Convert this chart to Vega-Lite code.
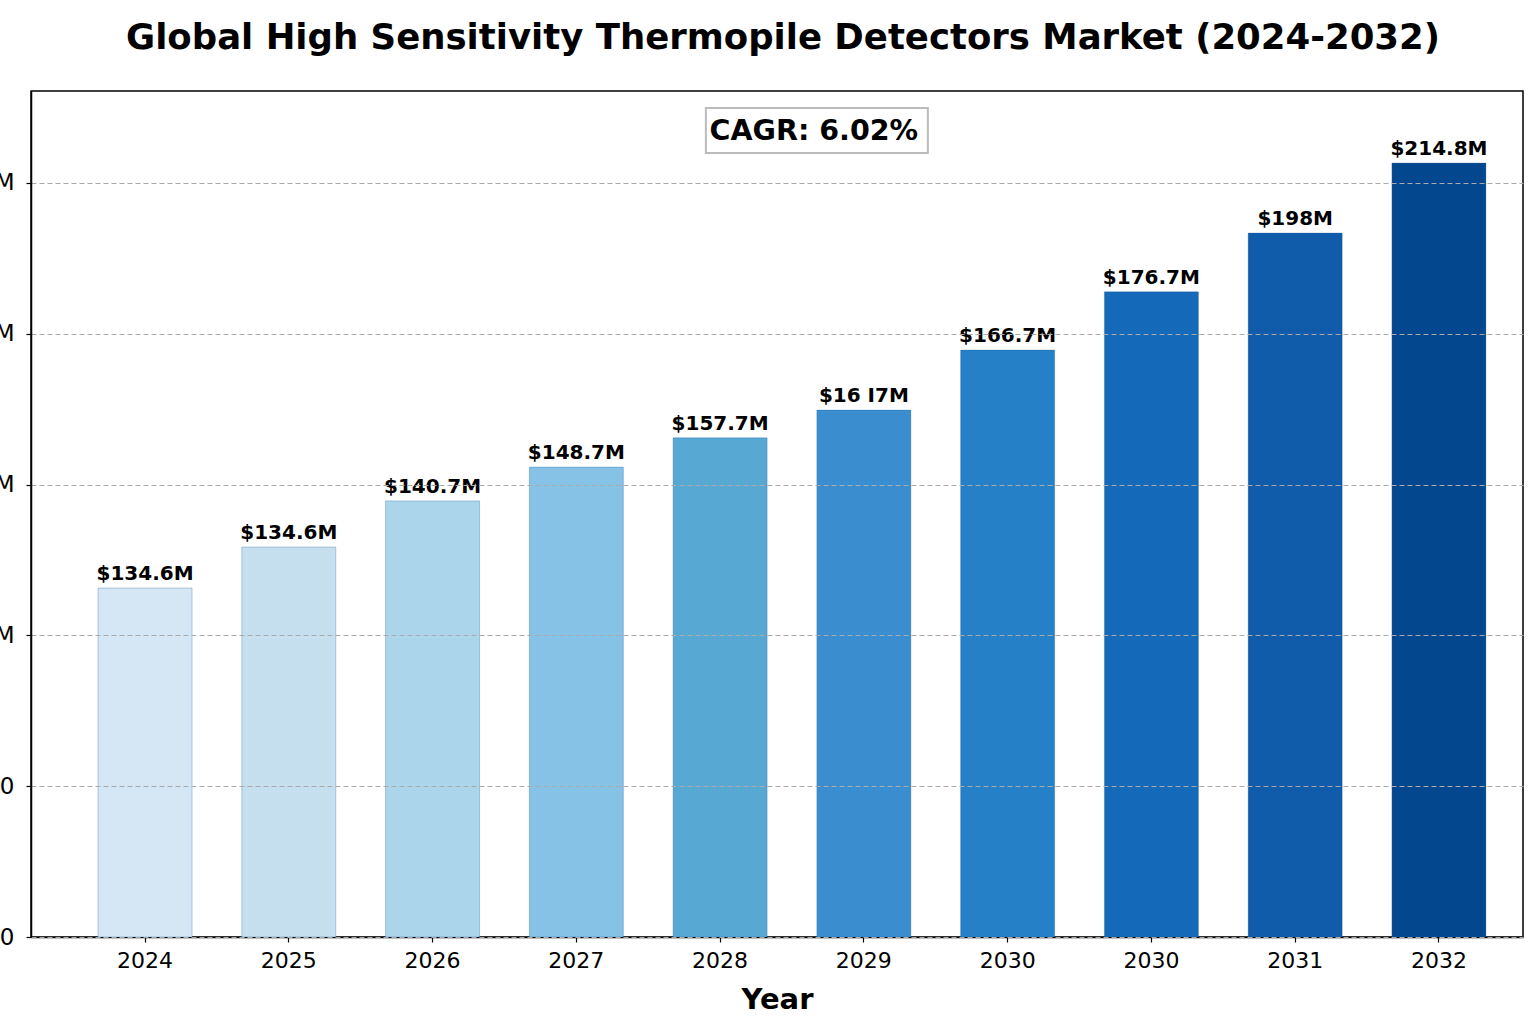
{
  "$schema": "https://vega.github.io/schema/vega-lite/v6.json",
  "autosize": {"type": "none"},
  "width": 1492,
  "height": 846,
  "padding": {"left": 31, "top": 91, "right": 13, "bottom": 87},
  "background": "white",
  "config": {
    "font": "DejaVu Sans",
    "view": {"stroke": "black", "strokeWidth": 1.5}
  },
  "title": {
    "text": "Global High Sensitivity Thermopile Detectors Market (2024-2032)",
    "font": "DejaVu Sans",
    "fontWeight": "bold",
    "fontSize": 35.5,
    "color": "black",
    "anchor": "middle",
    "dx": 6,
    "offset": 35
  },
  "data": {
    "values": [
      {"key": "2024", "value": 115.7, "label": "$134.6M"},
      {"key": "2025", "value": 129.3, "label": "$134.6M"},
      {"key": "2026", "value": 144.6, "label": "$140.7M"},
      {"key": "2027", "value": 155.8, "label": "$148.7M"},
      {"key": "2028", "value": 165.5, "label": "$157.7M"},
      {"key": "2029", "value": 174.7, "label": "$16 I7M"},
      {"key": "2030a", "value": 194.6, "label": "$166.7M"},
      {"key": "2030b", "value": 213.9, "label": "$176.7M"},
      {"key": "2031", "value": 233.4, "label": "$198M"},
      {"key": "2032", "value": 256.6, "label": "$214.8M"}
    ]
  },
  "encoding": {
    "x": {
      "field": "key",
      "type": "nominal",
      "sort": null,
      "scale": {"paddingInner": 0.346, "paddingOuter": 0.362, "align": 0.644},
      "axis": {
        "title": "Year",
        "titleFont": "DejaVu Sans",
        "titleFontWeight": "bold",
        "titleFontSize": 29,
        "titleColor": "black",
        "titlePadding": 14,
        "labelExpr": "substring(datum.label, 0, 4)",
        "labelAngle": 0,
        "labelFont": "DejaVu Sans",
        "labelFontSize": 22,
        "labelColor": "black",
        "labelPadding": 8,
        "tickColor": "black",
        "tickSize": 5,
        "tickWidth": 1.2,
        "domainColor": "black",
        "domainWidth": 1.5,
        "grid": false
      }
    },
    "y": {
      "field": "value",
      "type": "quantitative",
      "scale": {"domain": [0, 280.5], "nice": false},
      "axis": {
        "title": null,
        "values": [0, 50, 100, 150, 200, 250],
        "labelExpr": "datum.value >= 100 ? '$' + datum.value + 'M' : '' + datum.value",
        "labelFont": "DejaVu Sans",
        "labelFontSize": 23,
        "labelColor": "black",
        "labelPadding": 12,
        "tickColor": "black",
        "tickSize": 5,
        "tickWidth": 1.2,
        "domainColor": "black",
        "domainWidth": 1.5,
        "grid": true,
        "gridColor": "#aaaaaa",
        "gridDash": [5, 3],
        "gridWidth": 1,
        "zindex": 1
      }
    }
  },
  "layer": [
    {
      "mark": {"type": "bar", "stroke": "#1f5fa0", "strokeOpacity": 0.3, "strokeWidth": 1},
      "encoding": {
        "color": {
          "field": "key",
          "type": "nominal",
          "legend": null,
          "scale": {
            "domain": ["2024", "2025", "2026", "2027", "2028", "2029", "2030a", "2030b", "2031", "2032"],
            "range": ["#d5e6f5", "#c6dfee", "#abd5ea", "#85c2e5", "#58a8d4", "#3a8ecf", "#2680c8", "#1469b8", "#105caa", "#03488f"]
          }
        }
      }
    },
    {
      "mark": {"type": "text", "font": "DejaVu Sans", "fontWeight": "bold", "fontSize": 20, "color": "black", "baseline": "alphabetic", "dy": -8},
      "encoding": {"text": {"field": "label"}}
    },
    {
      "transform": [{"filter": "datum.key == '2029'"}],
      "mark": {
        "type": "point",
        "shape": "M-1,-0.2027L1,-0.2027L1,0.2027L-1,0.2027Z",
        "size": 49284,
        "filled": true,
        "fill": "white",
        "fillOpacity": 1,
        "stroke": "#bbbbbb",
        "strokeWidth": 2,
        "opacity": 1
      },
      "encoding": {
        "x": {"datum": "2029", "bandPosition": 0},
        "y": {"datum": 267.4}
      }
    },
    {
      "transform": [{"filter": "datum.key == '2029'"}],
      "mark": {"type": "text", "font": "DejaVu Sans", "fontWeight": "bold", "fontSize": 28.5, "color": "black", "baseline": "middle", "align": "center", "dx": -3},
      "encoding": {
        "x": {"datum": "2029", "bandPosition": 0},
        "y": {"datum": 267.4},
        "text": {"value": "CAGR: 6.02%"}
      }
    }
  ]
}
